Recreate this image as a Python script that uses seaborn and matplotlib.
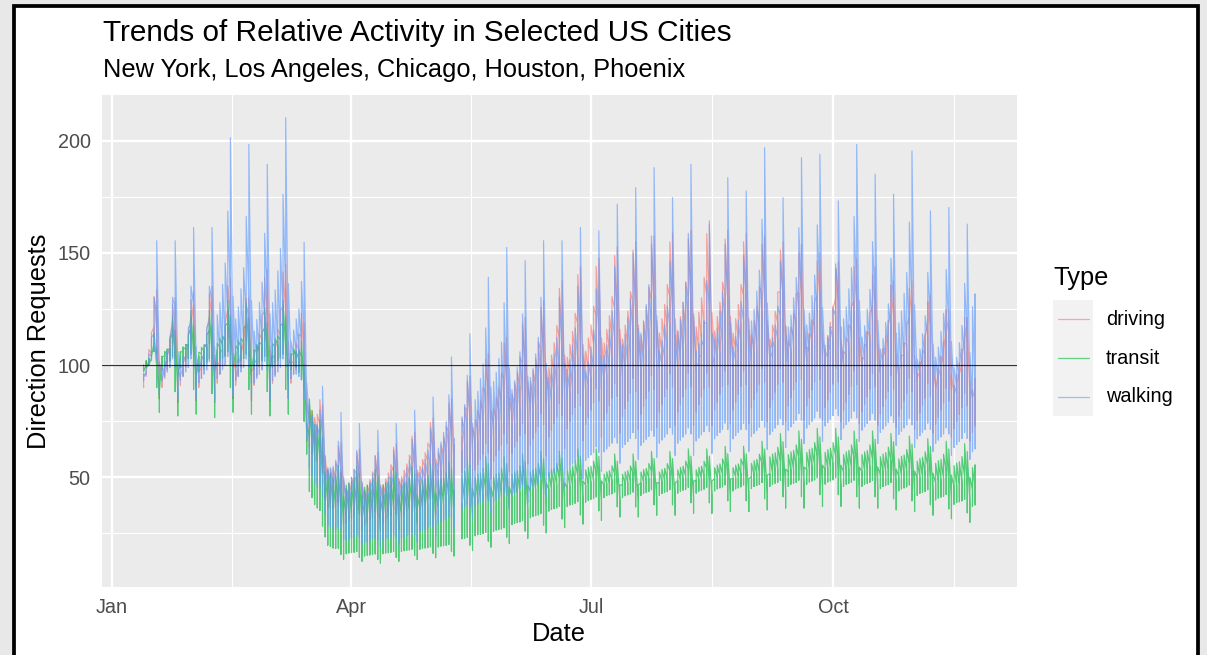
import numpy as np
import pandas as pd
import matplotlib
matplotlib.use("Agg")
import matplotlib.pyplot as plt
import matplotlib.dates as mdates
from matplotlib.patches import Rectangle
from matplotlib.lines import Line2D
import seaborn as sns

# ---------------- data ----------------
START = "2020-01-13"
END = "2020-11-24"
MISSING_DAYS = ["2020-05-11", "2020-05-12"]
CRASH_START = "2020-03-09"

types = ["driving", "transit", "walking"]
cities = ["Chicago", "Houston", "Los Angeles", "New York", "Phoenix"]  # data order
type_colors = ["#F8766D", "#00BA38", "#619CFF"]

# weekly levels (one value per week, weeks start on Mondays from Jan 13)
walking_new_york = [100, 97, 97, 96, 98, 97, 96, 97, 98,
                    45, 27, 23, 22, 23, 24, 27, 31,
                    36, 39, 41, 44, 47, 52, 56, 60,
                    64, 66, 67, 68, 68, 69, 70, 70, 71,
                    72, 74, 75, 76, 75, 74, 73, 72,
                    70, 68, 66, 64]
walking_los_angeles = [100, 100, 101, 100, 103, 102, 101, 103, 103,
                       55, 36, 32, 31, 32, 34, 38, 43,
                       50, 55, 58, 63, 68, 73, 77, 80,
                       84, 86, 88, 89, 90, 90, 91, 91, 92,
                       93, 94, 95, 94, 93, 92, 91, 90,
                       88, 86, 84, 82]
walking_chicago = [100, 103, 104, 105, 107, 107, 106, 108, 108,
                   63, 44, 40, 39, 40, 43, 48, 54,
                   62, 67, 71, 76, 81, 86, 90, 94,
                   98, 100, 102, 103, 104, 104, 105, 105, 106,
                   107, 108, 108, 107, 106, 105, 103, 101,
                   99, 96, 93, 90]
walking_houston = [100, 106, 108, 108, 112, 111, 110, 113, 112,
                   70, 52, 47, 46, 48, 51, 56, 62,
                   70, 76, 80, 86, 91, 96, 100, 104,
                   108, 110, 112, 113, 114, 114, 115, 115, 116,
                   117, 118, 118, 117, 116, 114, 112, 110,
                   107, 104, 101, 98]
walking_phoenix = [105, 105, 109, 109, 136, 134, 128, 142, 123,
                   68, 55, 50, 48, 50, 54, 58, 70,
                   77, 94, 103, 99, 105, 105, 109, 108,
                   116, 121, 127, 118, 128, 111, 124, 120, 133,
                   118, 130, 131, 117, 134, 125, 119, 132,
                   114, 115, 110, 140]

driving_new_york = [100, 98, 99, 98, 100, 99, 99, 100, 100,
                    55, 36, 32, 31, 32, 35, 39, 44,
                    52, 58, 62, 66, 70, 74, 78, 80,
                    82, 84, 85, 86, 86, 86, 87, 87, 88,
                    88, 89, 89, 88, 87, 86, 85, 84,
                    82, 80, 78, 76]
driving_los_angeles = [100, 101, 102, 101, 104, 103, 102, 104, 104,
                       62, 44, 40, 39, 41, 44, 49, 54,
                       62, 68, 73, 78, 83, 88, 92, 95,
                       97, 99, 100, 101, 101, 102, 102, 103, 103,
                       104, 104, 103, 102, 101, 100, 99, 97,
                       95, 92, 90, 88]
driving_chicago = [100, 103, 104, 104, 107, 106, 106, 108, 107,
                   66, 48, 44, 43, 45, 49, 54, 60,
                   68, 75, 80, 86, 91, 96, 101, 104,
                   107, 109, 110, 111, 111, 112, 112, 112, 113,
                   113, 113, 112, 111, 110, 108, 106, 104,
                   102, 99, 96, 94]
driving_houston = [100, 105, 106, 106, 110, 108, 109, 111, 110,
                   70, 52, 48, 47, 49, 53, 58, 64,
                   72, 80, 86, 92, 97, 103, 108, 111,
                   114, 116, 118, 119, 119, 120, 120, 120, 121,
                   121, 121, 120, 119, 117, 115, 113, 110,
                   107, 104, 101, 99]
driving_phoenix = [107, 104, 106, 108, 111, 104, 114, 116, 112,
                   73, 54, 50, 49, 52, 56, 61, 68,
                   76, 84, 90, 97, 103, 110, 115, 118,
                   122, 124, 126, 127, 128, 130, 128, 127, 126,
                   124, 123, 120, 117, 118, 115, 110, 110,
                   105, 100, 96, 95]

transit_new_york = [100, 98, 99, 97, 100, 99, 98, 99, 98,
                    35, 18, 16, 15, 16, 17, 18, 19,
                    22, 24, 26, 29, 32, 35, 37, 39,
                    41, 41, 42, 42, 43, 43, 44, 44, 45,
                    46, 46, 47, 47, 46, 46, 45, 44,
                    42, 40, 38, 37]
transit_los_angeles = [100, 102, 103, 102, 105, 104, 103, 104, 102,
                       45, 26, 24, 23, 24, 25, 27, 28,
                       30, 32, 34, 36, 38, 40, 42, 43,
                       44, 44, 45, 45, 46, 46, 47, 47, 48,
                       49, 50, 51, 51, 50, 50, 49, 48,
                       46, 44, 42, 41]
transit_chicago = [100, 104, 106, 105, 108, 107, 106, 108, 105,
                   55, 35, 33, 32, 33, 34, 36, 37,
                   38, 40, 41, 42, 44, 45, 46, 47,
                   47, 47, 48, 48, 49, 49, 50, 50, 51,
                   52, 53, 54, 54, 53, 53, 52, 51,
                   50, 48, 46, 45]
transit_houston = [100, 106, 108, 107, 111, 110, 109, 111, 107,
                   62, 43, 41, 40, 41, 42, 43, 44,
                   45, 46, 47, 48, 49, 50, 50, 51,
                   51, 51, 52, 52, 53, 53, 54, 54, 55,
                   56, 57, 58, 58, 57, 57, 56, 55,
                   54, 52, 51, 50]
transit_phoenix = [100, 107, 109, 109, 113, 112, 110, 113, 108,
                   70, 50, 48, 47, 48, 48, 49, 50,
                   51, 52, 52, 53, 54, 54, 55, 55,
                   53, 53, 54, 54, 55, 55, 56, 56, 58,
                   61, 62, 63, 63, 62, 62, 61, 60,
                   59, 58, 57, 56]

# day-of-week profiles (Mon..Sun)
walking_week_new_york = [0.96, 0.98, 1.00, 1.02, 1.06, 1.02, 0.88]
walking_week_los_angeles = [0.95, 0.97, 1.00, 1.03, 1.10, 1.12, 0.92]
walking_week_chicago = [0.94, 0.97, 1.00, 1.04, 1.14, 1.22, 0.95]
walking_week_houston = [0.93, 0.96, 1.00, 1.05, 1.18, 1.32, 1.00]
walking_week_phoenix = [0.90, 0.94, 1.00, 1.07, 1.24, 1.48, 0.96]

driving_week_new_york = [0.92, 0.96, 1.00, 1.04, 1.12, 1.05, 0.85]
driving_week_los_angeles = [0.92, 0.96, 1.00, 1.05, 1.15, 1.10, 0.88]
driving_week_chicago = [0.91, 0.95, 1.00, 1.05, 1.17, 1.15, 0.90]
driving_week_houston = [0.90, 0.95, 1.00, 1.06, 1.20, 1.20, 0.92]
driving_week_phoenix = [0.90, 0.95, 1.00, 1.07, 1.22, 1.25, 0.95]

transit_week_new_york = [1.00, 1.02, 1.03, 1.04, 1.06, 0.90, 0.79]
transit_week_los_angeles = [1.00, 1.01, 1.02, 1.03, 1.08, 0.94, 0.82]
transit_week_chicago = [0.99, 1.00, 1.01, 1.03, 1.10, 0.99, 0.84]
transit_week_houston = [0.98, 1.00, 1.01, 1.03, 1.12, 1.04, 0.86]
transit_week_phoenix = [0.97, 0.99, 1.00, 1.04, 1.14, 1.08, 0.88]

# daily adjustment during the March drop (Mar 9 - Mar 29)
march_drop = [1.00, 1.00, 0.98, 0.95, 0.90, 0.85, 0.78,
              1.25, 1.15, 1.05, 1.00, 0.95, 0.90, 0.85,
              1.10, 1.05, 1.00, 0.98, 0.97, 0.97, 0.95]

title_text = "Trends of Relative Activity in Selected US Cities"
subtitle_text = "New York, Los Angeles, Chicago, Houston, Phoenix"
x_tick_labels = ["Jan", "Apr", "Jul", "Oct"]
y_ticks = [50, 100, 150, 200]

# ---------------- build the long table ----------------
LEVELS = {
    "walking": {"New York": walking_new_york, "Los Angeles": walking_los_angeles,
                "Chicago": walking_chicago, "Houston": walking_houston, "Phoenix": walking_phoenix},
    "driving": {"New York": driving_new_york, "Los Angeles": driving_los_angeles,
                "Chicago": driving_chicago, "Houston": driving_houston, "Phoenix": driving_phoenix},
    "transit": {"New York": transit_new_york, "Los Angeles": transit_los_angeles,
                "Chicago": transit_chicago, "Houston": transit_houston, "Phoenix": transit_phoenix},
}
PROFILES = {
    "walking": {"New York": walking_week_new_york, "Los Angeles": walking_week_los_angeles,
                "Chicago": walking_week_chicago, "Houston": walking_week_houston, "Phoenix": walking_week_phoenix},
    "driving": {"New York": driving_week_new_york, "Los Angeles": driving_week_los_angeles,
                "Chicago": driving_week_chicago, "Houston": driving_week_houston, "Phoenix": driving_week_phoenix},
    "transit": {"New York": transit_week_new_york, "Los Angeles": transit_week_los_angeles,
                "Chicago": transit_week_chicago, "Houston": transit_week_houston, "Phoenix": transit_week_phoenix},
}

start = pd.Timestamp(START)
crash0 = pd.Timestamp(CRASH_START)
gap = pd.Timestamp(MISSING_DAYS[0])
dates = pd.date_range(START, END, freq="D")
dates = dates[~dates.isin(pd.to_datetime(MISSING_DAYS))]

rows = []
for t in types:
    for d in dates:
        i = (d - start).days
        w = i // 7
        dow = d.dayofweek
        j = (d - crash0).days
        for c in cities:
            v = LEVELS[t][c][w] * PROFILES[t][c][dow]
            if 0 <= j < len(march_drop):
                v *= march_drop[j]
            rows.append((d, t, c, v, 0 if d < gap else 1))
df = pd.DataFrame(rows, columns=["date", "type", "city", "value", "segment"])

# ---------------- figure ----------------
W, H = 1207, 655
sns.set_theme(style="white")
plt.rcParams["font.family"] = ["Liberation Sans", "DejaVu Sans"]

fig = plt.figure(figsize=(W / 100, H / 100), dpi=100)
fig.patch.set_facecolor("#E8E8E8")
fig.add_artist(Rectangle((14 / W, -0.2), (1197.5 - 14) / W, 1.2 - 5.5 / H,
                         transform=fig.transFigure, facecolor="white",
                         edgecolor="black", linewidth=2.7, zorder=-5, clip_on=False))

ax = fig.add_axes([102 / W, 1 - 586.7 / H, 914.7 / W, 491.7 / H])
ax.set_facecolor("#EBEBEB")

palette = dict(zip(types, type_colors))
sns.lineplot(data=df, x="date", y="value", hue="type", hue_order=types,
             units="segment", estimator=None, sort=False, palette=palette,
             linewidth=0.85, alpha=0.65, legend=False, ax=ax)
ax.axhline(100, color="black", linewidth=0.9, alpha=0.8, zorder=3)

# scales
x0 = mdates.date2num(df["date"].min())
x1 = mdates.date2num(df["date"].max())
pad = 0.05 * (x1 - x0)
ax.set_xlim(x0 - pad, x1 + pad)
ax.set_ylim(1.3, 220.3)

major = [mdates.date2num(pd.Timestamp(s)) for s in ["2020-01-01", "2020-04-01", "2020-07-01", "2020-10-01"]]
minor = [(a + b) / 2 for a, b in zip(major, major[1:] + [mdates.date2num(pd.Timestamp("2021-01-01"))])]
ax.set_xticks(major)
ax.set_xticklabels(x_tick_labels)
ax.set_xticks(minor, minor=True)
ax.set_yticks(y_ticks)
ax.set_yticklabels([str(v) for v in y_ticks])
ax.set_yticks([25, 75, 125, 175], minor=True)

ax.set_axisbelow(True)
ax.grid(which="major", color="white", linewidth=1.7)
ax.grid(which="minor", color="white", linewidth=0.85)
for s in ax.spines.values():
    s.set_visible(False)
ax.tick_params(which="major", length=3.6, width=1.0, color="#333333",
               labelsize=14.3, labelcolor="#4D4D4D", pad=4.6)
ax.tick_params(which="minor", length=0)

ax.set_xlabel("Date", fontsize=18.3, color="black")
ax.set_ylabel("Direction Requests", fontsize=18.3, color="black")
ax.xaxis.set_label_coords(0.5, (586.7 - 641) / 491.7)
ax.xaxis.label.set_verticalalignment("baseline")
ax.yaxis.set_label_coords((39 - 102) / 914.7, 0.5)
ax.yaxis.label.set_verticalalignment("center")

# titles
fig.text(103 / W, 1 - 40.7 / H, title_text, fontsize=21.4, ha="left", va="baseline", color="black")
fig.text(103 / W, 1 - 77.3 / H, subtitle_text, fontsize=18.3, ha="left", va="baseline", color="black")

# legend (ggplot-style)
fig.text(1053.5 / W, 1 - 285 / H, "Type", fontsize=18.3, ha="left", va="baseline", color="black")
key_left, key_right = 1053.3, 1092.7
key_top, key_h = 300.0, 38.7
for k, (t, col) in enumerate(zip(types, type_colors)):
    yt = key_top + k * key_h
    fig.add_artist(Rectangle((key_left / W, 1 - (yt + key_h) / H), (key_right - key_left) / W, key_h / H,
                             transform=fig.transFigure, facecolor="#F2F2F2", edgecolor="none"))
    yc = 1 - (yt + key_h / 2) / H
    fig.add_artist(Line2D([1057.7 / W, 1089 / W], [yc, yc], transform=fig.transFigure,
                          color=col, linewidth=0.9, alpha=0.6))
    fig.text(1106 / W, yc, t, fontsize=14.3, ha="left", va="center", color="black")

fig.savefig("out.png", dpi=100, facecolor=fig.get_facecolor())
